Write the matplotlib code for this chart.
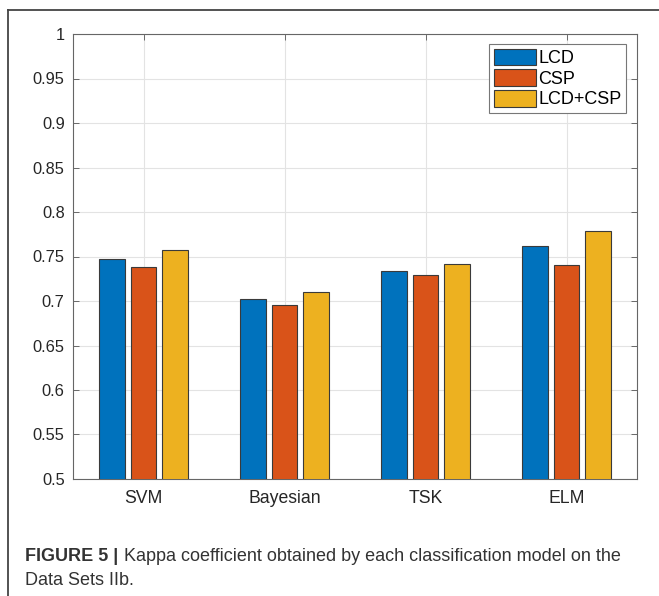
import numpy as np
import matplotlib.pyplot as plt
from matplotlib.lines import Line2D

plt.rcParams['font.family'] = ['Liberation Sans', 'DejaVu Sans']

models = ['SVM', 'Bayesian', 'TSK', 'ELM']
lcd = [0.747, 0.7027, 0.7332, 0.7623]
csp = [0.738, 0.696, 0.7287, 0.7407]
lcd_csp = [0.757, 0.7105, 0.7414, 0.7783]
series = ['LCD', 'CSP', 'LCD+CSP']
colors = ['#0072BD', '#D95319', '#EDB120']
yticks = [0.5, 0.55, 0.6, 0.65, 0.7, 0.75, 0.8, 0.85, 0.9, 0.95, 1]
ytick_labels = ['0.5', '0.55', '0.6', '0.65', '0.7', '0.75', '0.8', '0.85', '0.9', '0.95', '1']

W, H = 659, 596
fig = plt.figure(figsize=(W / 100, H / 100), dpi=100)
ax = fig.add_axes([73 / W, 1 - 479 / H, (637 - 73) / W, (479 - 34) / H])

x = np.arange(1, len(models) + 1)
width = 0.182
step = 0.2245
for i, (vals, name, c) in enumerate(zip([lcd, csp, lcd_csp], series, colors)):
    ax.bar(x + (i - 1) * step, vals, width, color=c, edgecolor='#3a3a3a',
           linewidth=0.8, label=name, zorder=3)

ax.set_xlim(0.5, 4.5)
ax.set_ylim(0.5, 1)
ax.set_xticks(x)
ax.set_xticklabels(models, fontsize=12.7, color='#262626')
ax.set_yticks(yticks)
ax.set_yticklabels(ytick_labels, fontsize=11.8, color='#262626')
ax.tick_params(axis='y', direction='in', length=4, width=0.6, color='#555555',
               right=True, pad=6)
ax.tick_params(axis='x', direction='in', length=4, width=0.6, color='#555555',
               top=True, pad=8)
ax.grid(True, color='#e3e3e3', linewidth=0.8, zorder=0)
ax.set_axisbelow(True)
for s in ax.spines.values():
    s.set_color('#666666')
    s.set_linewidth(0.8)

leg = ax.legend(loc='upper right', bbox_to_anchor=(1 - 11 / 564, 1 - 10 / 445),
                fontsize=13, frameon=True, fancybox=False, framealpha=1,
                edgecolor='#777777', handlelength=2.3, handleheight=1.05,
                handletextpad=0.15, labelspacing=0.12, borderpad=0.25,
                borderaxespad=0)
leg.get_frame().set_linewidth(0.8)

# outer frame of the figure panel
fig.add_artist(Line2D([8 / W, 8 / W], [0, 1 - 10 / H], color='#444444',
                      linewidth=1.3, transform=fig.transFigure))
fig.add_artist(Line2D([8 / W, 1], [1 - 10 / H, 1 - 10 / H], color='#444444',
                      linewidth=1.3, transform=fig.transFigure))

# caption
t1 = fig.text(25 / W, 1 - 561 / H, 'FIGURE 5 |', fontsize=13, fontweight='bold',
              color='#333333', va='baseline')
fig.canvas.draw()
bb = t1.get_window_extent()
fig.text(bb.x1 / W + 6 / W, 1 - 561 / H,
         'Kappa coefficient obtained by each classification model on the',
         fontsize=13, color='#333333', va='baseline')
fig.text(25 / W, 1 - 585 / H, 'Data Sets IIb.', fontsize=13, color='#333333',
         va='baseline')

fig.savefig('out.png', dpi=100)
